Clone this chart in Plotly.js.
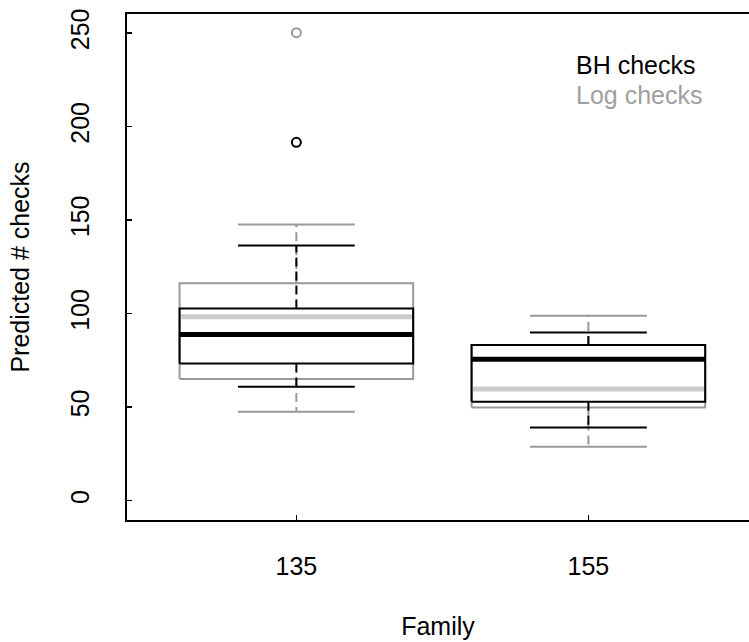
<!DOCTYPE html>
<html>
<head>
<meta charset="utf-8">
<script src="https://cdn.plot.ly/plotly-3.0.1.min.js"></script>
<style>html,body{margin:0;padding:0;background:#fff;}</style>
</head>
<body>
<div id="chart" style="width:749px;height:642px;"></div>
<script>
// Categories (Family) and their box positions
var families = ['135', '155'];
var positions = [1, 2];

// Log checks (gray) box statistics
var logLowerWhisker = [47.6, 28.9];
var logQ1 = [65.1, 49.9];
var logMedian = [98.4, 59.7];
var logQ3 = [116.2, 83.2];
var logUpperWhisker = [147.7, 98.9];
var logOutliers = [[250.2], []];

// BH checks (black) box statistics
var bhLowerWhisker = [60.9, 39.2];
var bhQ1 = [73.4, 52.9];
var bhMedian = [88.9, 75.6];
var bhQ3 = [102.8, 83.2];
var bhUpperWhisker = [136.5, 90.0];
var bhOutliers = [[191.6], []];

var yTicks = [0, 50, 100, 150, 200, 250];

var BOX_HALF = 0.4, CAP_HALF = 0.2;

function boxTraces(lw, q1, med, q3, uw, outs, lineColor, medColor) {
  var bx = [], by = [], mx = [], my = [], wx = [], wy = [], cx = [], cy = [], ox = [], oy = [];
  for (var i = 0; i < positions.length; i++) {
    var p = positions[i];
    bx.push(p - BOX_HALF, p + BOX_HALF, p + BOX_HALF, p - BOX_HALF, p - BOX_HALF, null);
    by.push(q1[i], q1[i], q3[i], q3[i], q1[i], null);
    mx.push(p - BOX_HALF, p + BOX_HALF, null);
    my.push(med[i], med[i], null);
    wx.push(p, p, null, p, p, null);
    wy.push(q3[i], uw[i], null, q1[i], lw[i], null);
    cx.push(p - CAP_HALF, p + CAP_HALF, null, p - CAP_HALF, p + CAP_HALF, null);
    cy.push(uw[i], uw[i], null, lw[i], lw[i], null);
    for (var j = 0; j < outs[i].length; j++) { ox.push(p); oy.push(outs[i][j]); }
  }
  var common = {type: 'scatter', showlegend: false, hoverinfo: 'skip', cliponaxis: false};
  return [
    Object.assign({}, common, {x: wx, y: wy, mode: 'lines', line: {color: lineColor, width: 2, dash: '9px,5px'}}),
    Object.assign({}, common, {x: cx, y: cy, mode: 'lines', line: {color: lineColor, width: 2}}),
    Object.assign({}, common, {x: bx, y: by, mode: 'lines', line: {color: lineColor, width: 2}}),
    Object.assign({}, common, {x: mx, y: my, mode: 'lines', line: {color: medColor, width: 5}}),
    Object.assign({}, common, {x: ox, y: oy, mode: 'markers', marker: {symbol: 'circle-open', size: 9, color: lineColor, line: {width: 2, color: lineColor}}})
  ];
}

var data = [].concat(
  boxTraces(logLowerWhisker, logQ1, logMedian, logQ3, logUpperWhisker, logOutliers, '#999999', '#cccccc'),
  boxTraces(bhLowerWhisker, bhQ1, bhMedian, bhQ3, bhUpperWhisker, bhOutliers, '#000000', '#000000')
);

var font = {family: 'Liberation Sans, Arial, sans-serif', size: 25, color: '#000'};

var layout = {
  width: 749, height: 642,
  margin: {l: 127, r: 0, t: 14, b: 122},
  paper_bgcolor: '#fff', plot_bgcolor: '#fff',
  font: font,
  showlegend: false,
  hovermode: false,
  xaxis: {
    range: [0.42, 2.55],
    tickvals: positions, ticktext: families,
    ticks: 'inside', ticklen: 5, tickwidth: 1.5, tickcolor: '#000',
    showline: true, linewidth: 2, linecolor: '#000', mirror: true,
    showgrid: false, zeroline: false,
    ticklabelstandoff: 23,
    tickfont: font,
    title: {text: 'Family', font: font, standoff: 38}
  },
  yaxis: {
    range: [-10.3, 260.2],
    tickvals: yTicks,
    ticks: 'inside', ticklen: 5, tickwidth: 1.5, tickcolor: '#000',
    showline: true, linewidth: 2, linecolor: '#000',
    showgrid: false, zeroline: false,
    tickangle: -90,
    ticklabelstandoff: 26,
    tickfont: font,
    title: {text: 'Predicted # checks', font: font, standoff: 29}
  },
  annotations: [
    {xref: 'paper', yref: 'paper', x: 0.719, y: 0.899, xanchor: 'left', yanchor: 'middle',
     text: 'BH checks', showarrow: false, font: {family: font.family, size: 25, color: '#000'}},
    {xref: 'paper', yref: 'paper', x: 0.719, y: 0.840, xanchor: 'left', yanchor: 'middle',
     text: 'Log checks', showarrow: false, font: {family: font.family, size: 25, color: '#a0a0a0'}}
  ]
};

Plotly.newPlot('chart', data, layout, {displayModeBar: false, staticPlot: true});
</script>
</body>
</html>
